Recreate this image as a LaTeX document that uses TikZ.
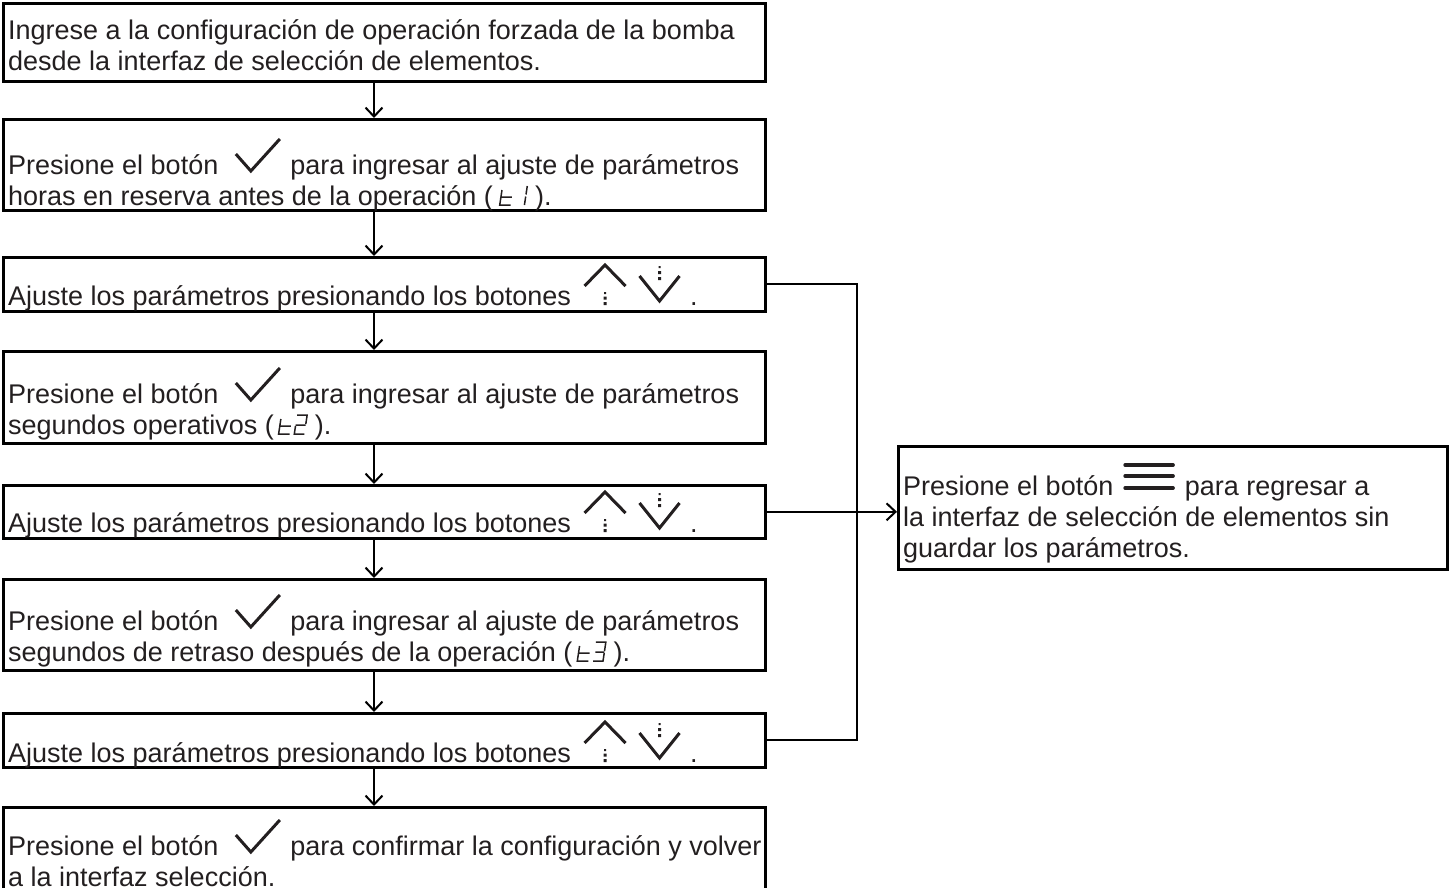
\documentclass[tikz,border=0pt]{standalone}
\usepackage{fontspec}
\setmainfont{Liberation Sans}
\usetikzlibrary{arrows.meta,positioning}

\definecolor{inkgray}{HTML}{231F20}

% button icons
\newcommand{\okmark}{\tikz[baseline=0pt,x=1pt,y=1pt]\draw[inkgray,line width=3pt] (0,20)--(15,3)--(44,35);}
\newcommand{\upmark}{\tikz[baseline=0pt,x=1pt,y=1pt]{\draw[inkgray,line width=3pt] (0,19)--(20.5,40)--(41,19);
  \fill[inkgray] (19,0) rectangle (22,3) (19,5.5) rectangle (22,8.5) (19.5,11) rectangle (21.5,13);}}
\newcommand{\downmark}{\tikz[baseline=0pt,x=1pt,y=1pt]{\draw[inkgray,line width=3pt] (0,29)--(20,4)--(40,29);
  \fill[inkgray] (18.5,25) rectangle (21.5,28) (18.5,31) rectangle (21.5,34) (19,37) rectangle (21,39);}}
\newcommand{\menumark}{\tikz[baseline=0pt,x=1pt,y=1pt]\draw[inkgray,line width=3.5pt,line cap=round] (0,30)--(48,30) (0,19)--(48,19) (0,7)--(48,7);}
% seven segment display
\newcommand{\segt}{\tikz[baseline=0pt,x=1pt,y=1pt,xslant=0.15]\draw[inkgray,line width=1.5pt] (0,15)--(0,0)--(11,0) (0,8)--(11,8);}
\newcommand{\segone}{\tikz[baseline=0pt,x=1pt,y=1pt,xslant=0.15]\draw[inkgray,line width=1.5pt] (0,0)--(0,8.5) (0,10.5)--(0,19);}
\newcommand{\segtwo}{\tikz[baseline=0pt,x=1pt,y=1pt,xslant=0.15]\draw[inkgray,line width=1.5pt] (0,19)--(10,19)--(10,10) (0,9)--(10,9) (0,8)--(0,0)--(10,0);}
\newcommand{\segthree}{\tikz[baseline=0pt,x=1pt,y=1pt,xslant=0.15]\draw[inkgray,line width=1.5pt] (0,19)--(10,19)--(10,10) (1,9)--(10,9) (10,8)--(10,0)--(0,0);}

\begin{document}
\begin{tikzpicture}[x=1pt,y=-1pt,>={Straight Barb[length=9pt,width=17pt,line width=2pt]},
    stepbox/.style={draw,line width=2.6pt,minimum width=762pt,inner sep=0pt,anchor=north west},
    txt/.style={anchor=base west,inner sep=0pt,align=left,text=inkgray,font=\fontsize{27pt}{31pt}\selectfont},
    link/.style={line width=2pt}]
  \path[use as bounding box,clip] (0,0) rectangle (1451,888);

  % boxes
  \node[stepbox,minimum height=78pt] (b1) at (2,2) {};
  \node[stepbox,minimum height=91pt] (b2) at (2,118) {};
  \node[stepbox,minimum height=54pt] (b3) at (2,256) {};
  \node[stepbox,minimum height=92pt] (b4) at (2,350) {};
  \node[stepbox,minimum height=53pt] (b5) at (2,484) {};
  \node[stepbox,minimum height=91pt] (b6) at (2,578) {};
  \node[stepbox,minimum height=54pt] (b7) at (2,712) {};
  \node[stepbox,minimum height=100pt] (b8) at (2,806) {};
  \node[stepbox,minimum width=549pt,minimum height=123pt] (back) at (897,445) {};

  % texts (anchored at the last line)
  \node[txt] (t1) at (8,71) {Ingrese a la configuración de operación forzada de la bomba\\desde la interfaz de selección de elementos.};
  \node[txt] (t2) at (8,205) {Presione el botón\hspace{16pt}\okmark\hspace{9pt}para ingresar al ajuste de parámetros\\horas en reserva antes de la operación (\hspace{6pt}\segt\hspace{11pt}\segone\hspace{7pt}).};
  \node[txt] (t3) at (8,305) {Ajuste los parámetros presionando los botones\hspace{12pt}\upmark\hspace{11pt}\downmark\hspace{9pt}.};
  \node[txt] (t4) at (8,434) {Presione el botón\hspace{16pt}\okmark\hspace{9pt}para ingresar al ajuste de parámetros\\segundos operativos (\hspace{4pt}\segt\hspace{2pt}\segtwo\hspace{7pt}).};
  \node[txt] (t5) at (8,532) {Ajuste los parámetros presionando los botones\hspace{12pt}\upmark\hspace{11pt}\downmark\hspace{9pt}.};
  \node[txt] (t6) at (8,661) {Presione el botón\hspace{16pt}\okmark\hspace{9pt}para ingresar al ajuste de parámetros\\segundos de retraso después de la operación (\hspace{4pt}\segt\hspace{2pt}\segthree\hspace{7pt}).};
  \node[txt] (t7) at (8,762) {Ajuste los parámetros presionando los botones\hspace{12pt}\upmark\hspace{11pt}\downmark\hspace{9pt}.};
  \node[txt] (t8) at (8,886) {Presione el botón\hspace{16pt}\okmark\hspace{9pt}para confirmar la configuración y volver\\a la interfaz selección.};
  \node[txt] (tb) at (903,557) {Presione el botón\hspace{10pt}\menumark\hspace{10pt}para regresar a\\la interfaz de selección de elementos sin\\guardar los parámetros.};

  % connectors
  \coordinate (spine) at (374,0);
  \coordinate (bus) at (857,0);
  \foreach \a/\b in {b1/b2,b2/b3,b3/b4,b4/b5,b5/b6,b6/b7,b7/b8}
    \draw[link,->] (\a.south -| spine) -- (\b.north -| spine);
  \draw[link] (b3.east) -| (bus |- b7.east) -- (b7.east);
  \draw[link,->] (b5.east) -- (b5.east -| back.west);
\end{tikzpicture}
\end{document}
